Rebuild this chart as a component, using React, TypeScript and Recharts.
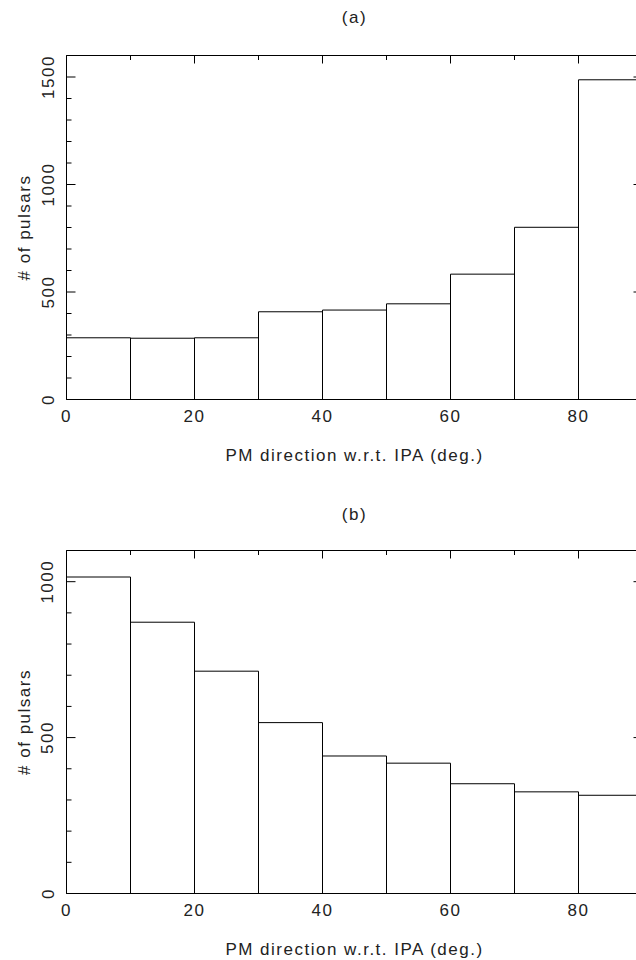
import React from 'react';
import { BarChart, Bar, XAxis, YAxis, Label, ReferenceLine } from 'recharts';

// histogram bins, 10 degrees wide (bin centres)
const binCentres = [5, 15, 25, 35, 45, 55, 65, 75, 85];
const countsA = [287, 285, 287, 408, 416, 445, 583, 801, 1487];
const countsB = [1015, 870, 713, 548, 441, 418, 352, 326, 315];

const xDomain = [0, 90];
const xTicks = [0, 10, 20, 30, 40, 50, 60, 70, 80];
const xLabelStep = 20;

const yDomainA = [0, 1600];
const yTicksA = [0, 100, 200, 300, 400, 500, 600, 700, 800, 900, 1000, 1100, 1200, 1300, 1400, 1500, 1600];
const yDomainB = [0, 1100];
const yTicksB = [0, 100, 200, 300, 400, 500, 600, 700, 800, 900, 1000, 1100];
const yLabelStep = 500;

const xTitle = 'PM direction w.r.t. IPA (deg.)';
const yTitle = '# of pulsars';

const CHART_W = 660;
const CHART_H = 480;
const PLOT_LEFT = 66.5;
const PLOT_RIGHT = 17.5;
const PLOT_RIGHT_X = CHART_W - PLOT_RIGHT;

const textStyle: React.CSSProperties = {
  fontFamily: '"Liberation Sans", Arial, sans-serif',
  fontSize: 17,
  letterSpacing: 1.5,
  fill: '#222',
};

const Panel = ({ title, counts, yDomain, yTicks, top, marginTop, marginBottom, titleY }: any) => {
  const data = binCentres.map((x, i) => ({ x, count: counts[i] }));
  const plotBottom = CHART_H - marginBottom;
  const plotCenterX = PLOT_LEFT + (CHART_W - PLOT_LEFT - PLOT_RIGHT) / 2;

  // x ticks: inward tick marks on bottom and top, labels every 20 deg
  const xTick = (p: any) => {
    const v = p.payload.value;
    const major = v % xLabelStep === 0;
    const len = major ? 8 : 4.5;
    const x = p.payload.coordinate ?? p.x;
    return (
      <g>
        <line x1={x} x2={x} y1={plotBottom} y2={plotBottom - len} stroke="#000" />
        <line x1={x} x2={x} y1={marginTop} y2={marginTop + len} stroke="#000" />
        {major && (
          <text x={x} y={plotBottom + 17} textAnchor="middle" dominantBaseline="central" style={textStyle}>
            {v}
          </text>
        )}
      </g>
    );
  };

  // y ticks: inward tick marks on left and right, rotated labels every 500
  const yTick = (p: any) => {
    const v = p.payload.value;
    const major = v % yLabelStep === 0;
    const len = major ? 9 : 5;
    const y = p.payload.coordinate ?? p.y;
    const cx = PLOT_LEFT - 18.5;
    return (
      <g>
        <line x1={PLOT_LEFT} x2={PLOT_LEFT + len} y1={y} y2={y} stroke="#000" />
        <line x1={PLOT_RIGHT_X} x2={PLOT_RIGHT_X - len} y1={y} y2={y} stroke="#000" />
        {major && (
          <text x={cx} y={y} transform={`rotate(-90 ${cx} ${y})`} textAnchor="middle" dominantBaseline="central" style={textStyle}>
            {v}
          </text>
        )}
      </g>
    );
  };

  const xLabel = () => (
    <text x={plotCenterX} y={plotBottom + 56} textAnchor="middle" dominantBaseline="central" style={textStyle}>
      {xTitle}
    </text>
  );
  const yLabel = () => {
    const cy = marginTop + (plotBottom - marginTop) / 2;
    return (
      <text x={24} y={cy} transform={`rotate(-90 24 ${cy})`} textAnchor="middle" dominantBaseline="central" style={textStyle}>
        {yTitle}
      </text>
    );
  };

  return (
    <div style={{ position: 'absolute', left: 0, top, width: CHART_W, height: CHART_H }}>
      <div
        style={{
          position: 'absolute',
          left: plotCenterX,
          top: titleY,
          transform: 'translate(-50%, -50%)',
          fontFamily: '"Liberation Sans", Arial, sans-serif',
          fontSize: 17,
          letterSpacing: 1.5,
          color: '#222',
          whiteSpace: 'nowrap',
        }}
      >
        {title}
      </div>
      <BarChart
        width={CHART_W}
        height={CHART_H}
        data={data}
        margin={{ top: marginTop, right: PLOT_RIGHT, bottom: 0, left: 0 }}
        barCategoryGap={0}
        barGap={0}
      >
        <XAxis
          dataKey="x"
          type="number"
          domain={xDomain}
          allowDataOverflow
          ticks={xTicks}
          interval={0}
          height={marginBottom}
          stroke="#000"
          tickLine={false}
          tick={xTick}
        >
          <Label content={xLabel} />
        </XAxis>
        <YAxis
          type="number"
          domain={yDomain}
          allowDataOverflow
          ticks={yTicks}
          interval={0}
          width={PLOT_LEFT}
          stroke="#000"
          tickLine={false}
          tick={yTick}
        >
          <Label content={yLabel} />
        </YAxis>
        <ReferenceLine y={yDomain[1]} stroke="#000" ifOverflow="visible" />
        <ReferenceLine x={xDomain[1]} stroke="#000" ifOverflow="visible" />
        <Bar dataKey="count" fill="none" stroke="#000" strokeWidth={1} isAnimationActive={false} />
      </BarChart>
    </div>
  );
};

export default function App() {
  return (
    <div style={{ position: 'absolute', left: 0, top: 0, width: 636, height: 960, overflow: 'hidden', background: '#fff' }}>
      <Panel title="(a)" counts={countsA} yDomain={yDomainA} yTicks={yTicksA} top={0} marginTop={55.5} marginBottom={80.5} titleY={18} />
      <Panel title="(b)" counts={countsB} yDomain={yDomainB} yTicks={yTicksB} top={480} marginTop={70.5} marginBottom={66.5} titleY={35} />
    </div>
  );
}
